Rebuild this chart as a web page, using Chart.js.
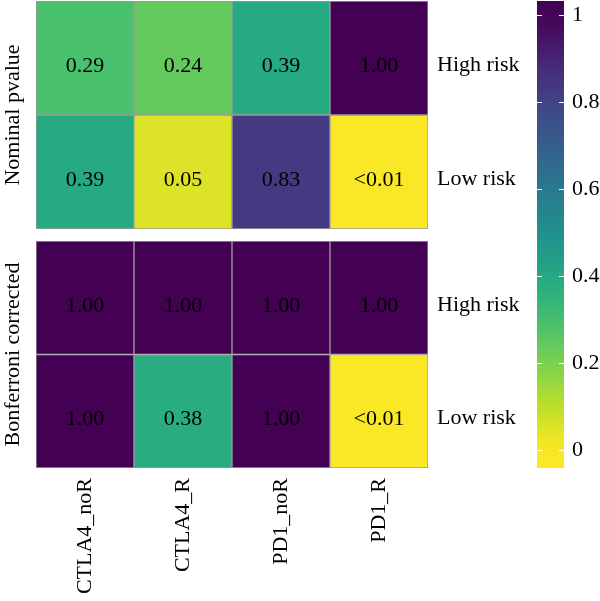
<!DOCTYPE html>
<html>
<head>
<meta charset="utf-8">
<script src="https://cdn.jsdelivr.net/npm/chart.js@4/dist/chart.umd.min.js"></script>
<style>
  html, body { margin: 0; padding: 0; background: #fff; }
  #wrap { position: relative; width: 600px; height: 601px; overflow: hidden; }
  canvas { position: absolute; }
</style>
</head>
<body>
<div id="wrap">
  <canvas id="top" width="530" height="235" style="left:0;top:0"></canvas>
  <canvas id="bottom" width="530" height="366" style="left:0;top:235px"></canvas>
  <canvas id="bar" width="70" height="601" style="left:530px;top:0"></canvas>
</div>
<script>
// data
const columns = ['CTLA4_noR', 'CTLA4_R', 'PD1_noR', 'PD1_R'];
const rows = ['High risk', 'Low risk'];
const nominalHigh = [0.29, 0.24, 0.39, 1.00];
const nominalLow = [0.39, 0.05, 0.83, 0.004];
const bonfHigh = [1.00, 1.00, 1.00, 1.00];
const bonfLow = [1.00, 0.38, 1.00, 0.004];
const cbTicks = [0, 0.2, 0.4, 0.6, 0.8, 1];
const cbMin = -0.041;
const cbMax = 1.032;

Chart.defaults.font.family = "'Liberation Serif', 'Times New Roman', serif";
Chart.defaults.font.size = 22;
Chart.defaults.color = '#000';
Chart.defaults.animation = false;

// viridis, reversed so that 1 is purple and 0 is yellow
const viridis = ['#440154', '#482475', '#414487', '#355f8d', '#2a788e', '#21918c',
                 '#22a884', '#44bf70', '#7ad151', '#bddf26', '#fde725'];

function hexToRgb(h) {
  return [parseInt(h.slice(1, 3), 16), parseInt(h.slice(3, 5), 16), parseInt(h.slice(5, 7), 16)];
}

function colorFor(v) {
  let t = 1 - v;
  t = Math.max(0, Math.min(1, t));
  const p = t * (viridis.length - 1);
  const i = Math.min(Math.floor(p), viridis.length - 2);
  const f = p - i;
  const a = hexToRgb(viridis[i]), b = hexToRgb(viridis[i + 1]);
  const c = a.map((x, k) => Math.round(x + (b[k] - x) * f));
  return 'rgb(' + c.join(',') + ')';
}

function cellText(v) {
  return v < 0.01 ? '<0.01' : v.toFixed(2);
}

// no extra room for tick labels at the ends of vertical axes
function noPad(s) {
  s.paddingTop = 0;
  s.paddingBottom = 0;
}

const cellLabels = {
  id: 'cellLabels',
  afterDatasetsDraw(chart) {
    const ctx = chart.ctx;
    ctx.save();
    ctx.font = "22px 'Liberation Serif', serif";
    ctx.fillStyle = '#000';
    ctx.textAlign = 'center';
    ctx.textBaseline = 'alphabetic';
    chart.data.datasets.forEach((ds, di) => {
      const meta = chart.getDatasetMeta(di);
      meta.data.forEach((el, i) => {
        const p = el.getCenterPoint();
        ctx.fillText(cellText(ds.values[i]), p.x, p.y + 14);
      });
    });
    ctx.restore();
  }
};

function makeHeatmap(id, title, high, low, showX, padTop, padBottom) {
  const vals = [high, low];
  new Chart(document.getElementById(id), {
    type: 'bar',
    data: {
      labels: columns,
      datasets: vals.map((v, r) => ({
        values: v,
        data: columns.map(() => [r, r + 1]),
        backgroundColor: v.map(colorFor),
        borderColor: '#9b9b9b',
        borderWidth: 1,
        borderSkipped: false,
        barPercentage: 1,
        categoryPercentage: 1,
        grouped: false,
        yAxisID: 'y'
      }))
    },
    options: {
      responsive: false,
      devicePixelRatio: 1,
      layout: { padding: { top: padTop, bottom: padBottom, left: 0, right: 0 } },
      plugins: { legend: { display: false }, tooltip: { enabled: false } },
      scales: {
        x: {
          display: showX,
          grid: { display: false, drawTicks: false },
          border: { display: false },
          ticks: { minRotation: 90, maxRotation: 90, padding: 10, autoSkip: false },
          afterFit(s) { s.height = showX ? 133 : 0; }
        },
        yl: {
          position: 'left',
          grid: { display: false, drawTicks: false },
          border: { display: false },
          ticks: { display: false },
          title: { display: true, text: title, padding: 0 },
          afterFit(s) { s.width = 36; noPad(s); }
        },
        y: {
          position: 'right',
          min: 0,
          max: 2,
          reverse: true,
          grid: { display: false, drawTicks: false },
          border: { display: false },
          afterBuildTicks(s) { s.ticks = [{ value: 0.5 }, { value: 1.5 }]; },
          ticks: {
            padding: 9,
            labelOffset: 7,
            callback: (v, i) => rows[i]
          },
          afterFit(s) { s.width = 102; noPad(s); }
        }
      }
    },
    plugins: [cellLabels]
  });
}

makeHeatmap('top', 'Nominal pvalue', nominalHigh, nominalLow, false, 1, 6);
makeHeatmap('bottom', 'Bonferroni corrected', bonfHigh, bonfLow, true, 6, 0);

// colour bar
const cbStubs = {
  id: 'cbStubs',
  afterDatasetsDraw(chart) {
    const ctx = chart.ctx, a = chart.chartArea, y = chart.scales.y;
    ctx.save();
    ctx.strokeStyle = '#fff';
    ctx.lineWidth = 1;
    cbTicks.forEach(v => {
      const py = Math.round(y.getPixelForValue(v)) + 0.5;
      ctx.beginPath();
      ctx.moveTo(a.left, py); ctx.lineTo(a.left + 5, py);
      ctx.moveTo(a.right - 5, py); ctx.lineTo(a.right, py);
      ctx.stroke();
    });
    ctx.restore();
  }
};

new Chart(document.getElementById('bar'), {
  type: 'bar',
  data: {
    labels: ['p'],
    datasets: [{
      data: [[cbMin, cbMax]],
      backgroundColor(ctx) {
        const chart = ctx.chart, a = chart.chartArea;
        if (!a) return '#888';
        const ys = chart.scales.y;
        const top = ys.getPixelForValue(cbMax), bot = ys.getPixelForValue(cbMin);
        const g = chart.ctx.createLinearGradient(0, top, 0, bot);
        for (let k = 0; k <= 20; k++) {
          const v = cbMax - (cbMax - cbMin) * k / 20;
          g.addColorStop(k / 20, colorFor(v));
        }
        return g;
      },
      borderWidth: 0,
      barPercentage: 1,
      categoryPercentage: 1
    }]
  },
  options: {
    responsive: false,
    devicePixelRatio: 1,
    layout: { padding: { top: 1, bottom: 133, left: 7, right: 0 } },
    plugins: { legend: { display: false }, tooltip: { enabled: false } },
    scales: {
      x: { display: false },
      y: {
        position: 'right',
        min: cbMin,
        max: cbMax,
        grid: { display: false, drawTicks: false },
        border: { display: false },
        afterBuildTicks(s) { s.ticks = cbTicks.map(v => ({ value: v })); },
        ticks: {
          padding: 8,
          callback: v => (v === 0 || v === 1) ? String(v) : v.toFixed(1)
        },
        afterFit(s) { s.width = 36; noPad(s); }
      }
    }
  },
  plugins: [cbStubs]
});
</script>
</body>
</html>
